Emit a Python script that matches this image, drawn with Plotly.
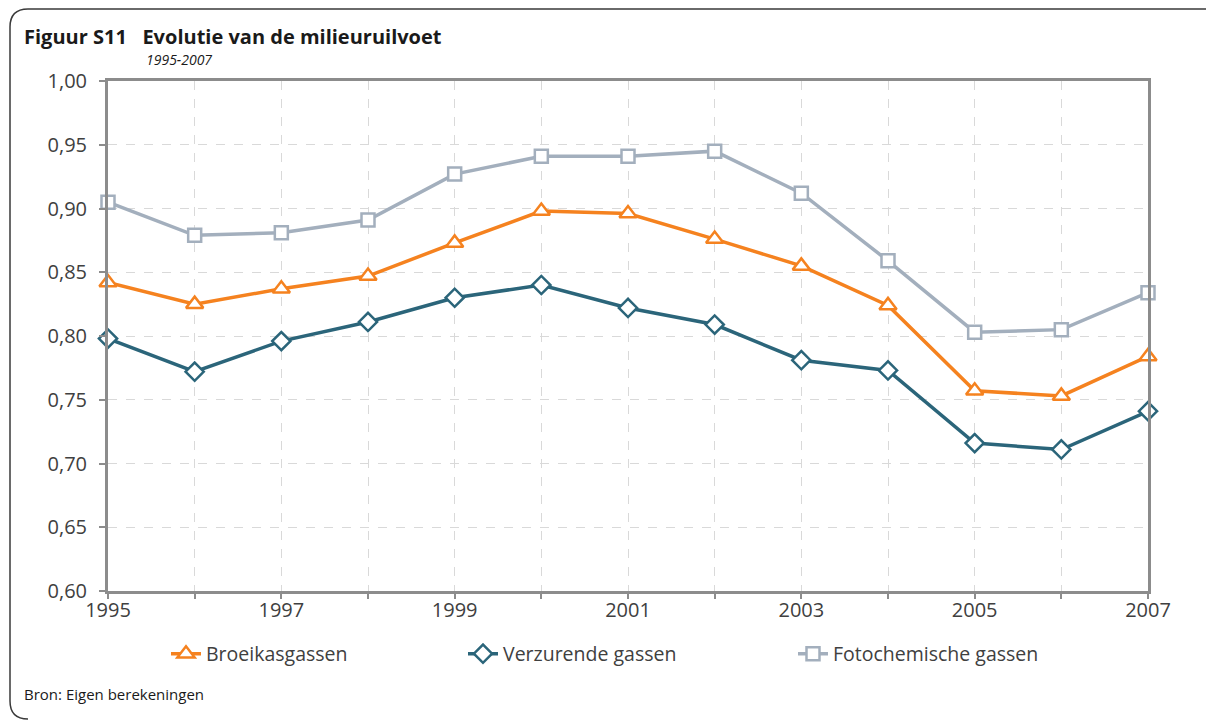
import plotly.graph_objects as go

years = list(range(1995, 2008))
broeikas = [0.842, 0.825, 0.837, 0.847, 0.873, 0.898, 0.896, 0.876, 0.855, 0.824, 0.757, 0.753, 0.784]
verzurend = [0.798, 0.772, 0.796, 0.811, 0.830, 0.840, 0.822, 0.809, 0.781, 0.773, 0.716, 0.711, 0.741]
fotochem = [0.905, 0.879, 0.881, 0.891, 0.927, 0.941, 0.941, 0.945, 0.912, 0.859, 0.803, 0.805, 0.834]
x_ticktext = [str(y) if y % 2 == 1 else "" for y in years]
y_ticks = [0.60, 0.65, 0.70, 0.75, 0.80, 0.85, 0.90, 0.95, 1.00]

OFF = 8  # page body margin
W, H = 1214 - OFF, 722 - OFF
L, R, T, B = 108 - OFF, 1148 - OFF, 81 - OFF, 591 - OFF

def px(x):  # screen px -> paper
    return (x - OFF - L) / (R - L)

def py(y):
    return (B - (y - OFF)) / (B - T)

FONT = "Open Sans"
TXT = "#404040"
fig = go.Figure()

series = [
    ("Broeikasgassen", broeikas, "#F5821F", "triangle-up", 15, "legend"),
    ("Verzurende gassen", verzurend, "#2B657A", "diamond", 14, "legend2"),
    ("Fotochemische gassen", fotochem, "#A3AFBD", "square", 13, "legend3"),
]
for name, vals, col, sym, sz, lg in series:
    fig.add_trace(go.Scatter(
        x=years, y=vals, name=name, mode="lines+markers",
        line=dict(color=col, width=3.5),
        marker=dict(symbol=sym, size=sz, color="white", line=dict(color=col, width=2.5)),
        legend=lg, cliponaxis=False,
    ))

legend_common = dict(orientation="h", xanchor="left", yanchor="middle",
                     font=dict(family=FONT, size=19.5, color=TXT),
                     bgcolor="rgba(0,0,0,0)")

fig.update_layout(
    width=W, height=H,
    margin=dict(l=L, r=W - R, t=T, b=H - B),
    paper_bgcolor="white", plot_bgcolor="white",
    separators=",.",
    showlegend=True,
    legend=dict(x=px(166), y=py(654), **legend_common),
    legend2=dict(x=px(463), y=py(654), **legend_common),
    legend3=dict(x=px(793), y=py(654), **legend_common),
    xaxis=dict(
        range=[1995, 2007], tickvals=years, ticktext=x_ticktext,
        showgrid=True, gridcolor="#D9D9D9", griddash="dash", gridwidth=1,
        showline=True, linecolor="#8C8C8C", linewidth=3, mirror=True,
        ticks="outside", ticklen=5, tickcolor="#8C8C8C", tickwidth=2,
        ticklabelstandoff=-6,
        tickfont=dict(family=FONT, size=20, color=TXT),
        zeroline=False,
    ),
    yaxis=dict(
        range=[0.60, 1.00], tickvals=y_ticks, tickformat=".2f",
        showgrid=True, gridcolor="#D9D9D9", griddash="dash", gridwidth=1,
        showline=True, linecolor="#8C8C8C", linewidth=3, mirror=True,
        ticks="outside", ticklen=6, tickcolor="#8C8C8C", tickwidth=2,
        ticklabelstandoff=8,
        tickfont=dict(family=FONT, size=20, color=TXT),
        zeroline=False,
    ),
)

fig.add_annotation(xref="paper", yref="paper", x=px(23), y=py(36), xanchor="left", yanchor="middle",
                   text="<b>Figuur S11   Evolutie van de milieuruilvoet</b>", showarrow=False,
                   font=dict(family=FONT, size=20, color="#1A1A1A"), borderpad=0)
fig.add_annotation(xref="paper", yref="paper", x=px(145), y=py(60), xanchor="left", yanchor="middle",
                   text="<i>1995-2007</i>", showarrow=False,
                   font=dict(family=FONT, size=14, color="#1A1A1A"), borderpad=0)
fig.add_annotation(xref="paper", yref="paper", x=px(22), y=py(694), xanchor="left", yanchor="middle",
                   text="Bron: Eigen berekeningen", showarrow=False,
                   font=dict(family=FONT, size=15, color="#1A1A1A"))

# frame with rounded corners (screen coords)
x0, x1, y0, y1, r = 10, 1222, 9, 719, 18
path = (f"M {px(x1)},{py(y0 + 15)} Q {px(x1)},{py(y0)} {px(x1 - 15)},{py(y0)} "
        f"L {px(x0 + r)},{py(y0)} "
        f"Q {px(x0)},{py(y0)} {px(x0)},{py(y0 + r)} "
        f"L {px(x0)},{py(y1 - r)} Q {px(x0)},{py(y1)} {px(x0 + r)},{py(y1)}")
fig.add_shape(type="path", xref="paper", yref="paper", path=path,
              line=dict(color="#3A3A3A", width=1.5), layer="below")

fig.write_html("out.html")
